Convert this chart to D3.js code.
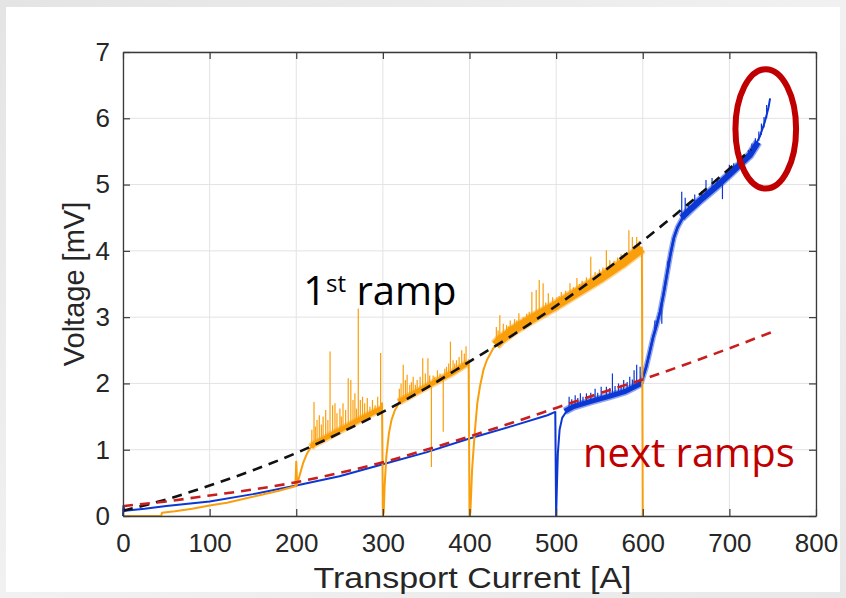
<!DOCTYPE html>
<html>
<head>
<meta charset="utf-8">
<script src="https://cdn.jsdelivr.net/npm/d3@7"></script>
<style>
  html, body { margin: 0; padding: 0; background: #ececec; }
  svg { display: block; }
</style>
</head>
<body>
<svg id="chart" width="846" height="598"></svg>
<script>
// ---- axis ticks ----
const xTicks = [0, 100, 200, 300, 400, 500, 600, 700, 800];
const yTicks = [0, 1, 2, 3, 4, 5, 6, 7];

// ---- first ramp (orange): measured trace [current A, voltage mV] ----
const ramp1Trace = [
  [0, 0.00], [44, 0.00], [45, 0.05], [60, 0.07], [80, 0.11], [100, 0.16], [120, 0.20],
  [140, 0.26], [160, 0.32], [180, 0.38], [199, 0.45], [200, 0.82], [201, 0.47], [204, 0.62],
  [208, 0.80], [212, 0.93], [216, 1.02], [220, 1.08], [240, 1.22], [260, 1.36], [280, 1.50],
  [298, 1.62], [299, 1.70], [300, 0.00], [301, 0.05], [302, 0.45], [304, 0.90], [307, 1.25],
  [310, 1.45], [314, 1.60], [320, 1.73], [340, 1.88], [360, 2.02], [380, 2.16], [398, 2.30],
  [399, 2.35], [400, 0.00], [401, 0.05], [403, 0.70], [406, 1.25], [409, 1.70], [412, 1.95],
  [416, 2.20], [420, 2.35], [427, 2.52], [435, 2.66], [450, 2.80], [475, 3.00], [500, 3.18],
  [525, 3.38], [550, 3.58], [575, 3.80], [599, 4.05], [600, 0.00]
];
// noisy stretches of the first ramp (centre of the noise band)
const ramp1BandA = [[217, 1.04], [220, 1.08], [240, 1.22], [260, 1.36], [280, 1.50], [298, 1.62]];
const ramp1BandB = [[318, 1.72], [340, 1.88], [360, 2.02], [380, 2.16], [398, 2.31]];
const ramp1BandC = [[430, 2.58], [435, 2.65], [450, 2.80], [475, 3.00], [500, 3.18], [525, 3.38],
                    [550, 3.58], [575, 3.80], [599, 4.04]];
// voltage spikes of the first ramp: [current, from, to]
const ramp1Spikes = [
  [218, 1.05, 1.30], [220.5, 1.08, 1.72], [222, 1.09, 1.35], [224, 1.10, 1.45], [226.6, 1.12, 1.52],
  [229, 1.14, 1.38], [231, 1.15, 1.50], [234, 1.17, 1.60], [236.5, 1.19, 1.45], [239, 1.20, 2.48],
  [242, 1.22, 1.67], [244.7, 1.24, 1.70], [247, 1.26, 1.55], [250.4, 1.28, 1.62], [252, 1.29, 1.50],
  [254, 1.31, 1.70], [257, 1.33, 1.60], [260, 1.36, 2.08], [263, 1.38, 2.05], [265.5, 1.39, 1.75],
  [267.7, 1.41, 1.85], [269.5, 1.42, 1.62], [271.6, 1.44, 3.13], [274, 1.45, 1.75], [276.5, 1.47, 1.80],
  [279, 1.49, 1.70], [282, 1.51, 1.78], [285, 1.53, 1.65], [288, 1.55, 1.75], [291, 1.57, 1.67],
  [294, 1.59, 1.80], [297.4, 1.61, 2.46],
  [319, 1.72, 1.92], [321, 1.74, 2.00], [323.5, 1.76, 2.28], [326, 1.78, 2.05], [328, 1.80, 2.13],
  [331, 1.82, 1.98], [333, 1.83, 2.02], [335, 1.85, 2.10], [337.5, 1.86, 1.98], [339.6, 1.88, 2.05],
  [343, 1.90, 2.10], [346, 1.93, 2.38], [349, 1.95, 2.15], [352, 1.97, 2.38], [354, 1.98, 2.12],
  [356, 2.00, 0.74], [358, 2.01, 2.12], [360, 2.02, 2.10], [363, 2.04, 2.20], [366, 2.06, 2.15],
  [369.7, 2.09, 1.27], [371.5, 2.10, 2.22], [373.5, 2.11, 2.25], [376, 2.13, 2.30], [378, 2.14, 2.63],
  [381, 2.16, 2.35], [383, 2.18, 2.30], [385, 2.19, 2.35], [388, 2.21, 2.40], [391, 2.23, 2.50],
  [394, 2.26, 2.45], [396, 2.28, 2.56],
  [431, 2.60, 2.85], [433, 2.63, 2.80], [435, 2.66, 3.03], [439, 2.70, 2.90], [442.8, 2.73, 2.88],
  [445, 2.75, 2.86], [447, 2.77, 2.95], [452, 2.81, 2.97], [454.5, 2.83, 2.95], [457, 2.85, 3.06],
  [462, 2.90, 3.00], [466, 2.93, 3.05], [469, 2.95, 3.08], [472, 2.98, 3.38], [477, 3.02, 3.41],
  [480.5, 3.05, 3.56], [485, 3.08, 3.51], [488, 3.10, 3.22], [491, 3.12, 3.36], [496, 3.15, 3.30],
  [501, 3.19, 3.30], [503.5, 3.21, 3.32], [506, 3.23, 3.38], [511, 3.27, 3.40], [516, 3.30, 3.51],
  [520, 3.34, 3.45], [524, 3.37, 3.59], [527, 3.40, 3.50], [530, 3.42, 3.55], [535, 3.46, 3.60],
  [540, 3.50, 3.91], [545, 3.54, 3.68], [548, 3.56, 3.66], [550, 3.58, 3.72], [554, 3.61, 3.75],
  [558, 3.65, 4.01], [562, 3.68, 3.86], [567, 3.73, 3.85], [571, 3.76, 3.90], [575, 3.80, 3.95],
  [579, 3.83, 3.97], [581.5, 3.85, 3.98], [584, 3.88, 4.31], [588, 3.92, 4.21], [590.5, 3.94, 4.08],
  [593, 3.97, 4.21], [596, 4.00, 4.15]
];

// ---- next ramps (blue): measured trace ----
const rampNextTrace = [
  [0, 0.00], [0.5, 0.15], [2, 0.08], [25, 0.11], [50, 0.15], [100, 0.22], [150, 0.33], [200, 0.46],
  [250, 0.60], [300, 0.78], [350, 0.96], [400, 1.17], [450, 1.36], [490, 1.52], [499, 1.57],
  [500, 0.00], [501, 0.50], [502, 0.95], [504, 1.30], [507, 1.48], [512, 1.58], [520, 1.65],
  [540, 1.73], [560, 1.80], [580, 1.88], [595, 1.98], [600, 2.08], [604, 2.25], [608, 2.47],
  [612, 2.70], [616, 2.88], [620, 3.08], [624, 3.35], [628, 3.65], [632, 3.95], [636, 4.20],
  [640, 4.35], [647, 4.52], [656, 4.64], [666, 4.76], [685, 4.97], [704, 5.20], [724, 5.45],
  [735, 5.72], [741, 5.95], [745, 6.15], [747, 6.30]
];
const rampNextBandA = [[510, 1.58], [520, 1.65], [540, 1.73], [560, 1.80], [580, 1.88], [598, 2.00]];
const rampNextBandRise = [[598, 2.00], [604, 2.25], [608, 2.47], [612, 2.70], [616, 2.88], [620, 3.08],
                          [624, 3.35], [628, 3.65], [632, 3.95], [636, 4.20], [640, 4.35], [647, 4.52]];
const rampNextBandB = [[645, 4.50], [656, 4.64], [666, 4.76], [685, 4.97], [704, 5.20], [724, 5.45],
                       [733, 5.64]];
const rampNextSpikes = [
  [515, 1.62, 1.80], [518, 1.64, 1.76], [522, 1.65, 1.82], [525, 1.66, 1.78], [528, 1.68, 1.85],
  [531, 1.69, 1.80], [535, 1.70, 1.85], [540, 1.73, 1.86], [545, 1.74, 1.92], [548, 1.75, 1.86],
  [552, 1.77, 1.95], [558, 1.79, 1.95], [562, 1.81, 1.93], [565, 1.82, 2.15], [568, 1.83, 1.96],
  [572, 1.85, 2.00], [575, 1.86, 1.98], [578, 1.87, 2.05], [582, 1.89, 2.02], [585, 1.90, 2.10],
  [588, 1.92, 2.06], [590, 1.93, 2.20], [593, 1.95, 2.28], [597, 1.99, 2.25],
  [614, 2.80, 2.95], [622, 3.22, 2.90], [629, 3.72, 3.85],
  [645, 4.50, 4.89], [649, 4.55, 4.80], [653, 4.60, 4.72], [660, 4.70, 4.85], [668, 4.78, 4.90],
  [673, 4.85, 5.07], [680, 4.92, 5.10], [686, 4.98, 5.08], [692, 5.05, 4.78], [700, 5.15, 5.30],
  [705, 5.21, 5.32], [710, 5.27, 5.38], [716, 5.34, 5.44], [722, 5.42, 5.52], [726, 5.48, 5.62],
  [730, 5.55, 5.70], [734, 5.66, 5.80], [737, 5.75, 5.92], [740, 5.86, 6.02], [743, 6.00, 6.20]
];

// ---- fitted curves (dashed) ----
const firstRampFit = [
  [0, 0.08], [50, 0.25], [100, 0.46], [150, 0.69], [200, 0.95], [250, 1.25], [300, 1.57],
  [350, 1.93], [400, 2.33], [450, 2.73], [500, 3.17], [550, 3.64], [600, 4.15], [650, 4.68],
  [700, 5.24], [725, 5.53]
];
const nextRampsFit = [
  [0, 0.15], [50, 0.22], [100, 0.31], [150, 0.40], [200, 0.51], [250, 0.65], [300, 0.81],
  [350, 1.00], [400, 1.20], [450, 1.41], [500, 1.63], [550, 1.85], [600, 2.06], [650, 2.29],
  [700, 2.53], [750, 2.78]
];

// ---- annotations (data coordinates) ----
const labelFirst = { current: 208, voltage: 3.18 };
const labelNext = { current: 531, voltage: 0.74 };
const highlight = { current: 742, voltage: 5.84, dCurrent: 35, dVoltage: 0.9 };

// ================= drawing =================
const W = 846, H = 598;
const margin = { left: 123, right: 30, top: 52, bottom: 82 };
const svg = d3.select("#chart");

const defs = svg.append("defs");
const bg = defs.append("linearGradient").attr("id", "bg").attr("x1", 0).attr("y1", 0).attr("x2", 1).attr("y2", 1);
bg.append("stop").attr("offset", "0%").attr("stop-color", "#e4e4e4");
bg.append("stop").attr("offset", "50%").attr("stop-color", "#f1f1f1");
bg.append("stop").attr("offset", "100%").attr("stop-color", "#e8e8e8");

svg.append("rect").attr("width", W).attr("height", H).attr("fill", "url(#bg)");
svg.append("rect").attr("x", 6).attr("y", 7).attr("width", 834).attr("height", 585).attr("fill", "#ffffff");

const x = d3.scaleLinear().domain([0, 800]).range([margin.left, W - margin.right]);
const y = d3.scaleLinear().domain([0, 7]).range([H - margin.bottom, margin.top]);
const x0 = x.range()[0], x1 = x.range()[1], y0 = y.range()[0], y1 = y.range()[1];

// grid
const grid = svg.append("g").attr("class", "grid");
grid.selectAll("line.gx").data(xTicks).join("line").attr("class", "gx")
  .attr("x1", d => x(d)).attr("x2", d => x(d)).attr("y1", y1).attr("y2", y0)
  .attr("stroke", "#e3e3e3").attr("stroke-width", 1);
grid.selectAll("line.gy").data(yTicks).join("line").attr("class", "gy")
  .attr("x1", x0).attr("x2", x1).attr("y1", d => y(d)).attr("y2", d => y(d))
  .attr("stroke", "#e3e3e3").attr("stroke-width", 1);

const line = d3.line().x(d => x(d[0])).y(d => y(d[1]));
const smooth = d3.line().x(d => x(d[0])).y(d => y(d[1])).curve(d3.curveMonotoneX);

const plot = svg.append("g");
const blue = "#0b37d4", orange = "#fa9f0c";

function drawSeries(trace, bands, spikes, color) {
  plot.append("path").datum(trace).attr("d", line)
    .attr("fill", "none").attr("stroke", color).attr("stroke-width", 2).attr("stroke-linejoin", "round");
  bands.forEach(([band, w]) => {
    // soft outer halo, then a dense core
    plot.append("path").datum(band).attr("d", line)
      .attr("fill", "none").attr("stroke", color).attr("stroke-opacity", 0.45)
      .attr("stroke-width", w + 3).attr("stroke-linejoin", "round").attr("stroke-linecap", "butt");
    plot.append("path").datum(band).attr("d", line)
      .attr("fill", "none").attr("stroke", color).attr("stroke-width", w)
      .attr("stroke-linejoin", "round").attr("stroke-linecap", "butt");
  });
  plot.append("g").selectAll("line").data(spikes).join("line")
    .attr("x1", d => x(d[0])).attr("x2", d => x(d[0]))
    .attr("y1", d => y(d[1])).attr("y2", d => y(d[2]))
    .attr("stroke", color).attr("stroke-width", 1.2);
}

drawSeries(rampNextTrace, [[rampNextBandA, 5], [rampNextBandRise, 2.5], [rampNextBandB, 6]], rampNextSpikes, blue);
drawSeries(ramp1Trace, [[ramp1BandA, 5], [ramp1BandB, 5], [ramp1BandC, 9]], ramp1Spikes, orange);

// fits
plot.append("path").datum(firstRampFit).attr("d", smooth)
  .attr("fill", "none").attr("stroke", "#111").attr("stroke-width", 2.6).attr("stroke-dasharray", "10,7");
plot.append("path").datum(nextRampsFit).attr("d", smooth)
  .attr("fill", "none").attr("stroke", "#c81e1e").attr("stroke-width", 2.6).attr("stroke-dasharray", "10,7");

// axes box with inward ticks
const axisColor = "#3a3a3a";
const tickFont = "'Liberation Sans', Arial, sans-serif";
function styleAxis(g, labels) {
  g.select(".domain").attr("stroke", axisColor).attr("stroke-width", 1.3);
  g.selectAll(".tick line").attr("stroke", axisColor).attr("stroke-width", 1.2);
  g.selectAll(".tick text").attr("fill", "#262626").style("font-family", tickFont).style("font-size", "26px");
  if (!labels) g.selectAll(".tick text").remove();
}
const fmt = d3.format("d");
svg.append("g").attr("transform", `translate(0,${y0})`)
  .call(d3.axisBottom(x).tickValues(xTicks).tickFormat(fmt).tickSizeInner(-7).tickSizeOuter(0).tickPadding(18))
  .call(g => styleAxis(g, true));
svg.append("g").attr("transform", `translate(0,${y1})`)
  .call(d3.axisTop(x).tickValues(xTicks).tickSizeInner(-7).tickSizeOuter(0))
  .call(g => styleAxis(g, false));
svg.append("g").attr("transform", `translate(${x0},0)`)
  .call(d3.axisLeft(y).tickValues(yTicks).tickFormat(fmt).tickSizeInner(-7).tickSizeOuter(0).tickPadding(13))
  .call(g => styleAxis(g, true));
svg.append("g").attr("transform", `translate(${x1},0)`)
  .call(d3.axisRight(y).tickValues(yTicks).tickSizeInner(-7).tickSizeOuter(0))
  .call(g => styleAxis(g, false));

// axis titles
svg.append("text").attr("x", (x0 + x1) / 2 + 3).attr("y", 588).attr("text-anchor", "middle")
  .style("font-family", tickFont).style("font-size", "30px").attr("fill", "#262626")
  .attr("textLength", 318).attr("lengthAdjust", "spacingAndGlyphs")
  .text("Transport Current [A]");
svg.append("text").attr("transform", `translate(84,${(y0 + y1) / 2}) rotate(-90)`).attr("text-anchor", "middle")
  .style("font-family", tickFont).style("font-size", "29px").attr("fill", "#262626")
  .text("Voltage [mV]");

// annotations
const annFont = "'Open Sans', sans-serif";
const t1 = svg.append("text").attr("x", x(labelFirst.current)).attr("y", y(labelFirst.voltage))
  .style("font-family", annFont).style("font-size", "40px").attr("fill", "#000");
t1.append("tspan").text("1");
t1.append("tspan").attr("dy", -13).style("font-size", "24px").text("st");
t1.append("tspan").attr("dy", 13).text(" ramp");

svg.append("text").attr("x", x(labelNext.current)).attr("y", y(labelNext.voltage))
  .style("font-family", annFont).style("font-size", "40px").attr("fill", "#c00000")
  .text("next ramps");

svg.append("ellipse")
  .attr("cx", x(highlight.current)).attr("cy", y(highlight.voltage))
  .attr("rx", x(highlight.current + highlight.dCurrent) - x(highlight.current))
  .attr("ry", y(highlight.voltage - highlight.dVoltage) - y(highlight.voltage))
  .attr("fill", "none").attr("stroke", "#c00000").attr("stroke-width", 6);
</script>
</body>
</html>
